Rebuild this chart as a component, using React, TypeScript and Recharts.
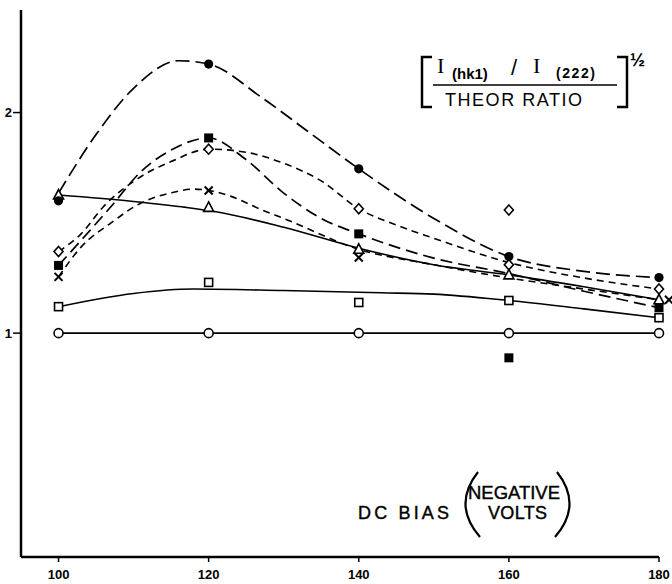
import React from 'react';
import { ComposedChart, Line, Scatter, XAxis, YAxis } from 'recharts';

// DC bias (negative volts)
const biasVolts = [100, 120, 140, 160, 180];
const xTicks = [100, 120, 140, 160, 180];
const yTicks = [1, 2];

// measured points per reflection (marker values)
const filledCircleMarks = [1.6, 2.22, 1.745, 1.347, 1.252];
const filledSquareMarks = [1.307, 1.885, 1.45, 0.888, 1.115];
const diamondMarks = [1.37, 1.834, 1.564, 1.31, 1.2];
const diamondExtraVolts = [160];
const diamondExtraMarks = [1.558];
const crossVolts = [100, 120, 140, 180];
const crossMarks = [1.255, 1.647, 1.343, 1.151];
const triangleMarks = [1.626, 1.57, 1.38, 1.264, 1.151];
const openSquareMarks = [1.12, 1.23, 1.139, 1.148, 1.07];
const openCircleMarks = [1, 1, 1, 1, 1];

// hand-drawn curves
const fcCurveVolts = [100, 105, 110, 116, 120, 127, 133, 140, 150, 160, 170, 180];
const fcCurve = [1.635, 1.9, 2.11, 2.235, 2.22, 2.07, 1.92, 1.745, 1.52, 1.347, 1.28, 1.252];
const fsCurveVolts = [100, 107, 111, 115, 120, 125, 130, 135, 140, 150, 160, 170, 180];
const fsCurve = [1.307, 1.574, 1.733, 1.83, 1.885, 1.786, 1.635, 1.52, 1.45, 1.34, 1.27, 1.19, 1.115];
const diCurveVolts = [100, 103, 106, 111, 115, 120, 125, 130, 135, 140, 145, 150, 160, 170, 180];
const diCurve = [1.37, 1.45, 1.574, 1.71, 1.778, 1.834, 1.82, 1.77, 1.69, 1.564, 1.49, 1.43, 1.32, 1.25, 1.2];
const crCurveVolts = [100, 103, 107, 111, 115, 118, 120, 123, 127, 130, 140, 150, 160, 170, 180];
const crCurve = [1.255, 1.39, 1.5, 1.59, 1.636, 1.653, 1.647, 1.62, 1.56, 1.52, 1.38, 1.31, 1.25, 1.2, 1.151];
const trCurveVolts = [100, 110, 117, 121, 130, 140, 150, 160, 170, 180];
const trCurve = [1.626, 1.597, 1.57, 1.55, 1.48, 1.385, 1.31, 1.264, 1.21, 1.151];
const osCurveVolts = [100, 110, 118, 130, 143, 150, 160, 170, 180];
const osCurve = [1.12, 1.18, 1.2, 1.193, 1.183, 1.177, 1.148, 1.11, 1.07];
const ocCurve = [1, 1, 1, 1, 1];

const pts = (xs: number[], ys: number[]) => xs.map((x, i) => ({ x, y: ys[i] }));

type Kind = 'filledCircle' | 'filledSquare' | 'diamond' | 'cross' | 'triangle' | 'openSquare' | 'openCircle';

const Marker = ({ cx, cy, kind }: { cx?: number; cy?: number; kind: Kind }) => {
  if (cx == null || cy == null) return null;
  const s = { stroke: '#000', strokeWidth: 1.6, fill: '#fff' };
  switch (kind) {
    case 'filledCircle':
      return <circle cx={cx} cy={cy} r={4.6} fill="#000" />;
    case 'filledSquare':
      return <rect x={cx - 4.5} y={cy - 4.5} width={9} height={9} fill="#000" />;
    case 'diamond':
      return <path d={`M${cx} ${cy - 5}L${cx + 4.5} ${cy}L${cx} ${cy + 5}L${cx - 4.5} ${cy}Z`} {...s} />;
    case 'cross':
      return (
        <g stroke="#000" strokeWidth={2}>
          <line x1={cx - 4} y1={cy - 4} x2={cx + 4} y2={cy + 4} />
          <line x1={cx - 4} y1={cy + 4} x2={cx + 4} y2={cy - 4} />
        </g>
      );
    case 'triangle':
      return <path d={`M${cx} ${cy - 5.5}L${cx + 5} ${cy + 4}L${cx - 5} ${cy + 4}Z`} {...s} />;
    case 'openSquare':
      return <rect x={cx - 4} y={cy - 4} width={8} height={8} {...s} />;
    default:
      return <circle cx={cx} cy={cy} r={4.5} {...s} />;
  }
};

const shapeOf = (kind: Kind) => (p: any) => <Marker cx={p.cx} cy={p.cy} kind={kind} />;
// the cross at the last bias is printed beside the crowded stack
const crossShape = (p: any) => (
  <Marker cx={p.payload && p.payload.x === 180 ? p.cx + 10 : p.cx} cy={p.cy} kind="cross" />
);

const font = '"Liberation Sans", Arial, sans-serif';

export default function App() {
  return (
    <div style={{ position: 'absolute', left: 0, top: 0, width: 672, height: 584, background: '#fff' }}>
      <ComposedChart width={672} height={584} margin={{ top: 10, right: 13, bottom: 0, left: 0 }}>
        <XAxis
          dataKey="x"
          type="number"
          domain={[95, 180]}
          ticks={xTicks}
          height={27}
          tickSize={5}
          tickMargin={8}
          axisLine={{ stroke: '#000', strokeWidth: 2.5 }}
          tickLine={{ stroke: '#000', strokeWidth: 1.5 }}
          tick={{ fill: '#000', fontSize: 13, fontWeight: 700, fontFamily: font }}
        />
        <YAxis
          dataKey="y"
          type="number"
          domain={[-0.015, 2.465]}
          ticks={yTicks}
          width={21}
          tickSize={8}
          tickMargin={1}
          axisLine={{ stroke: '#000', strokeWidth: 2.5 }}
          tickLine={{ stroke: '#000', strokeWidth: 1.5 }}
          tick={{ fill: '#000', fontSize: 13, fontWeight: 700, fontFamily: font }}
        />
        <Line data={pts(fcCurveVolts, fcCurve)} dataKey="y" type="monotone" stroke="#000" strokeWidth={1.7} strokeDasharray="14 6" dot={false} isAnimationActive={false} />
        <Line data={pts(fsCurveVolts, fsCurve)} dataKey="y" type="monotone" stroke="#000" strokeWidth={1.7} strokeDasharray="12 6" dot={false} isAnimationActive={false} />
        <Line data={pts(diCurveVolts, diCurve)} dataKey="y" type="monotone" stroke="#000" strokeWidth={1.6} strokeDasharray="7 5" dot={false} isAnimationActive={false} />
        <Line data={pts(crCurveVolts, crCurve)} dataKey="y" type="monotone" stroke="#000" strokeWidth={1.6} strokeDasharray="7 5" dot={false} isAnimationActive={false} />
        <Line data={pts(trCurveVolts, trCurve)} dataKey="y" type="monotone" stroke="#000" strokeWidth={1.6} dot={false} isAnimationActive={false} />
        <Line data={pts(osCurveVolts, osCurve)} dataKey="y" type="monotone" stroke="#000" strokeWidth={1.6} dot={false} isAnimationActive={false} />
        <Line data={pts(biasVolts, ocCurve)} dataKey="y" type="linear" stroke="#000" strokeWidth={1.8} dot={false} isAnimationActive={false} />
        <Scatter data={pts(biasVolts, openCircleMarks)} shape={shapeOf('openCircle')} isAnimationActive={false} />
        <Scatter data={pts(biasVolts, openSquareMarks)} shape={shapeOf('openSquare')} isAnimationActive={false} />
        <Scatter data={pts(biasVolts, triangleMarks)} shape={shapeOf('triangle')} isAnimationActive={false} />
        <Scatter data={pts(crossVolts, crossMarks)} shape={crossShape} isAnimationActive={false} />
        <Scatter data={pts(biasVolts, diamondMarks)} shape={shapeOf('diamond')} isAnimationActive={false} />
        <Scatter data={pts(diamondExtraVolts, diamondExtraMarks)} shape={shapeOf('diamond')} isAnimationActive={false} />
        <Scatter data={pts(biasVolts, filledSquareMarks)} shape={shapeOf('filledSquare')} isAnimationActive={false} />
        <Scatter data={pts(biasVolts, filledCircleMarks)} shape={shapeOf('filledCircle')} isAnimationActive={false} />
      </ComposedChart>

      <svg width={672} height={584} style={{ position: 'absolute', left: 0, top: 0, pointerEvents: 'none' }}>
        {/* ratio label */}
        <path d="M432 57H422V107H432" fill="none" stroke="#000" strokeWidth={2.5} />
        <path d="M617 57H627V107H617" fill="none" stroke="#000" strokeWidth={2.5} />
        <text x={437} y={73} fontFamily='"Liberation Serif", serif' fontSize={22}>I</text>
        <text x={452} y={79} fontFamily={font} fontSize={15} fontWeight={700}>(hk1)</text>
        <text x={511} y={75} fontFamily={font} fontSize={22}>/</text>
        <text x={533} y={73} fontFamily='"Liberation Serif", serif' fontSize={22}>I</text>
        <text x={556} y={78} fontFamily={font} fontSize={14} fontWeight={700} textLength={39}>(222)</text>
        <line x1={433} y1={85} x2={617} y2={85} stroke="#000" strokeWidth={1.6} />
        <text x={445} y={106} fontFamily={font} fontSize={18} textLength={137} lengthAdjust="spacing">THEOR  RATIO</text>
        <text x={630} y={66} fontFamily={font} fontSize={18} fontWeight={700}>½</text>

        {/* x axis title */}
        <text x={358} y={519} fontFamily={font} fontSize={18} stroke="#000" strokeWidth={0.4} textLength={91} lengthAdjust="spacing">DC  BIAS</text>
        <path d="M478 472Q452 505 480 537" fill="none" stroke="#000" strokeWidth={2.2} />
        <path d="M557 472Q583 505 555 537" fill="none" stroke="#000" strokeWidth={2.2} />
        <text x={468} y={499} fontFamily={font} fontSize={18} stroke="#000" strokeWidth={0.4} textLength={92} lengthAdjust="spacingAndGlyphs">NEGATIVE</text>
        <text x={488} y={519} fontFamily={font} fontSize={18} stroke="#000" strokeWidth={0.4} textLength={59} lengthAdjust="spacing">VOLTS</text>
      </svg>
    </div>
  );
}
